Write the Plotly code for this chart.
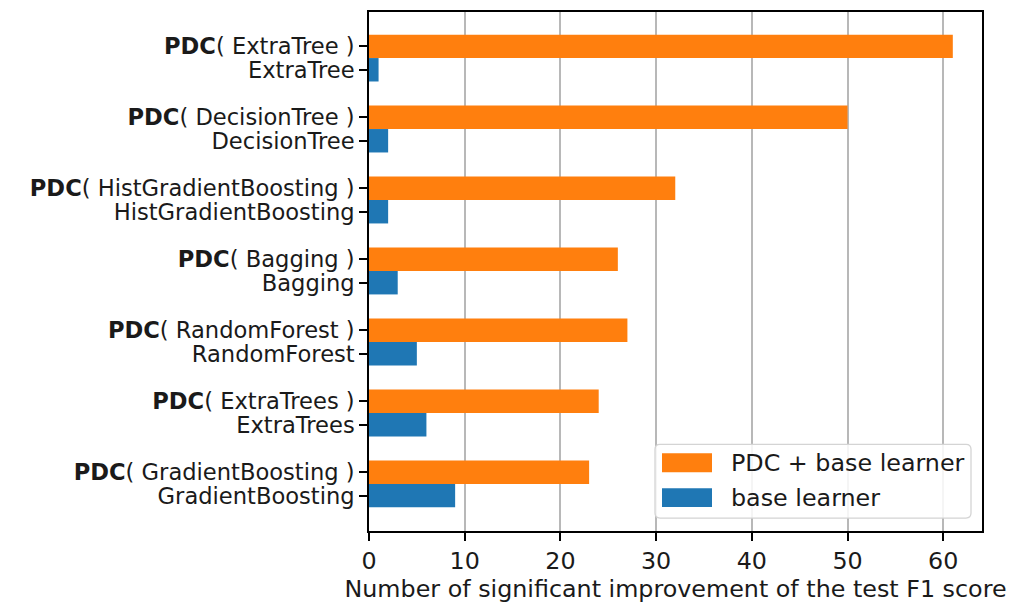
import plotly.graph_objects as go

# Base learners, listed bottom to top on the chart
learners = ["GradientBoosting", "ExtraTrees", "RandomForest", "Bagging",
            "HistGradientBoosting", "DecisionTree", "ExtraTree"]
pdc_counts = [23, 24, 27, 26, 32, 50, 61]
base_counts = [9, 6, 5, 3, 2, 2, 1]

series_names = ["PDC + base learner", "base learner"]
ORANGE = "#ff7f0e"
BLUE = "#1f77b4"

BAR_H = 0.33
pdc_pos = [float(i) for i in range(len(learners))]
base_pos = [p - BAR_H for p in pdc_pos]

tick_vals = []
tick_text = []
for name, p, b in zip(learners, pdc_pos, base_pos):
    tick_vals += [p, b]
    tick_text += [f"<b>PDC</b>( {name} )", name]

W, H = 1018, 608
L, R, T, B = 369, 982, 10, 531
FONT = "DejaVu Sans"
FS = 23.8
FS_Y = 22.6
TXT = "#1a1a1a"

fig = go.Figure()
fig.add_trace(go.Bar(x=pdc_counts, y=pdc_pos, orientation="h", width=BAR_H,
                     marker=dict(color=ORANGE, line=dict(width=0)),
                     name=series_names[0], showlegend=False))
fig.add_trace(go.Bar(x=base_counts, y=base_pos, orientation="h", width=BAR_H,
                     marker=dict(color=BLUE, line=dict(width=0)),
                     name=series_names[1], showlegend=False))


def px_x(px):
    return (px - L) / (R - L)


def px_y(py):
    return (B - py) / (B - T)


# Legend frame with rounded corners
def rounded_rect(x0, y0, x1, y1, r):
    pts = [
        f"M {px_x(x0 + r)} {px_y(y0)}",
        f"L {px_x(x1 - r)} {px_y(y0)}",
        f"Q {px_x(x1)} {px_y(y0)} {px_x(x1)} {px_y(y0 + r)}",
        f"L {px_x(x1)} {px_y(y1 - r)}",
        f"Q {px_x(x1)} {px_y(y1)} {px_x(x1 - r)} {px_y(y1)}",
        f"L {px_x(x0 + r)} {px_y(y1)}",
        f"Q {px_x(x0)} {px_y(y1)} {px_x(x0)} {px_y(y1 - r)}",
        f"L {px_x(x0)} {px_y(y0 + r)}",
        f"Q {px_x(x0)} {px_y(y0)} {px_x(x0 + r)} {px_y(y0)}",
        "Z",
    ]
    return " ".join(pts)


shapes = [
    dict(type="path", xref="paper", yref="paper",
         path=rounded_rect(655, 444, 971, 518, 5),
         fillcolor="rgba(255,255,255,0.85)",
         line=dict(color="#d4d4d4", width=1.3), layer="above"),
]
annotations = []
for (ytop, ybot), color, label in zip([(453, 472), (488, 507)], [ORANGE, BLUE], series_names):
    shapes.append(dict(type="rect", xref="paper", yref="paper",
                       x0=px_x(662), x1=px_x(712), y0=px_y(ybot), y1=px_y(ytop),
                       fillcolor=color, line=dict(width=0), layer="above"))
    annotations.append(dict(xref="paper", yref="paper", x=px_x(729), y=px_y((ytop + ybot) / 2),
                            text=label, showarrow=False, xanchor="left", yanchor="middle",
                            font=dict(family=FONT, size=FS, color=TXT)))

fig.update_layout(
    width=W, height=H,
    margin=dict(l=L, r=W - R, t=T, b=H - B),
    paper_bgcolor="white", plot_bgcolor="white",
    font=dict(family=FONT, size=FS, color=TXT),
    barmode="overlay",
    shapes=shapes, annotations=annotations,
    showlegend=False,
)
fig.update_xaxes(
    range=[0, 64.05], tickvals=[0, 10, 20, 30, 40, 50, 60],
    showgrid=True, gridcolor="#b8b8b8", gridwidth=1.6,
    showline=True, linecolor="black", linewidth=1.6, mirror=True,
    ticks="outside", ticklen=8, tickwidth=1.6, tickcolor="black",
    tickfont=dict(family=FONT, size=FS, color=TXT),
    zeroline=False,
    title=dict(text="Number of significant improvement of the test F1 score",
               font=dict(family=FONT, size=FS, color=TXT), standoff=6),
)
fig.update_yaxes(
    range=[-0.828, 6.484], tickvals=tick_vals, ticktext=tick_text,
    showgrid=False, zeroline=False,
    showline=True, linecolor="black", linewidth=1.6, mirror=True,
    ticks="outside", ticklen=8, tickwidth=1.6, tickcolor="black",
    tickfont=dict(family=FONT, size=FS_Y, color=TXT),
)

fig.write_html("out.html")
